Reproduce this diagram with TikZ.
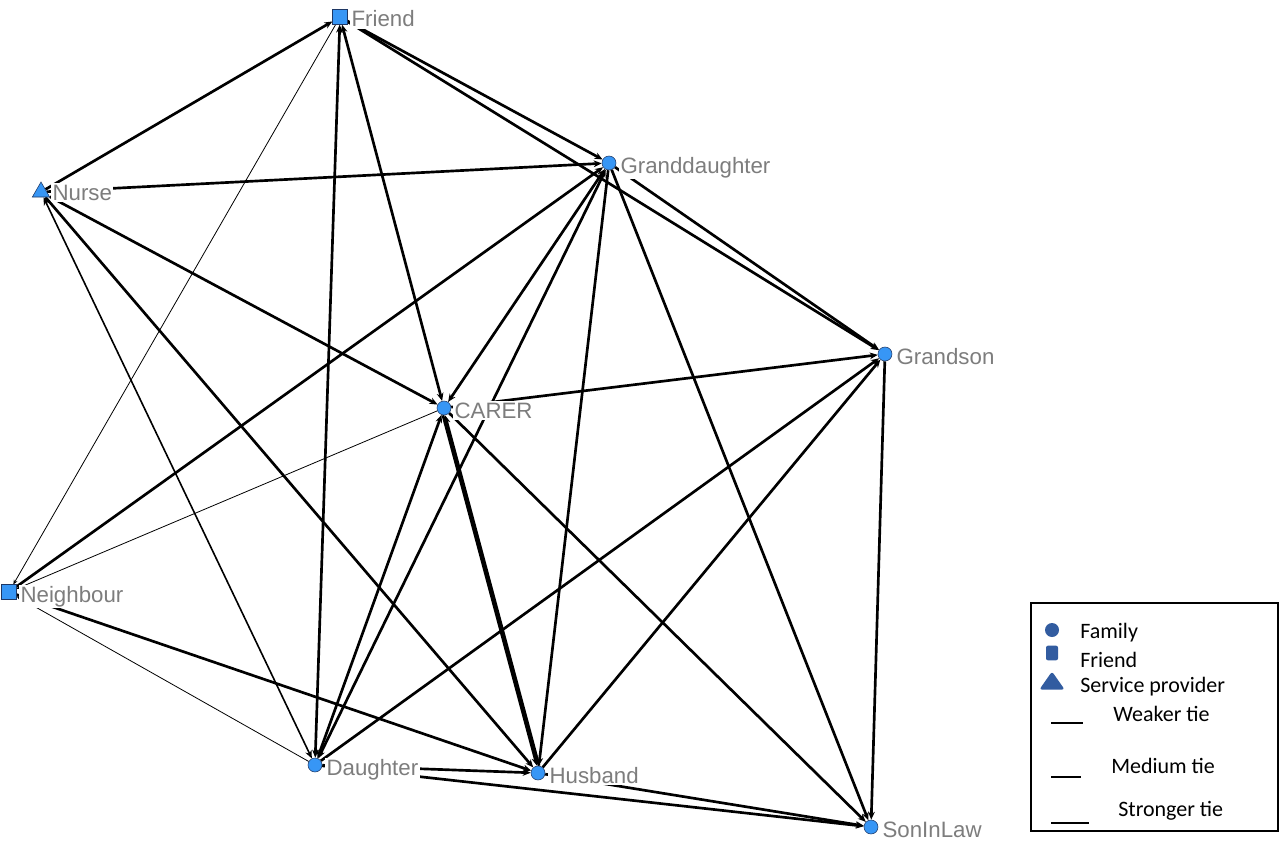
\documentclass[tikz,border=0pt]{standalone}
\usepackage{fontspec}
\setmainfont{Liberation Sans}
\newfontfamily\legfont{Carlito}
\usetikzlibrary{arrows.meta,shapes.geometric,backgrounds}
\definecolor{nodeblue}{RGB}{55,150,245}
\definecolor{nodeedge}{RGB}{30,55,100}
\definecolor{labgray}{RGB}{125,125,125}
\definecolor{legblue}{RGB}{50,92,160}
\begin{document}
\begin{tikzpicture}[x=0.75pt,y=-0.75pt,
  fam/.style={circle,fill=nodeblue,draw=nodeedge,line width=0.4pt,minimum size=10.5pt,inner sep=0pt},
  frd/.style={rectangle,fill=nodeblue,draw=nodeedge,line width=0.4pt,minimum size=11pt,inner sep=0pt},
  srv/.style={regular polygon,regular polygon sides=3,fill=nodeblue,draw=nodeedge,line width=0.4pt,minimum size=15pt,inner sep=0pt},
  lab/.style={font=\fontsize{16.7pt}{18pt}\selectfont,text=labgray,fill=white,inner xsep=1pt,inner ysep=1pt,anchor=base west},
  leg/.style={font=\legfont\fontsize{16.5pt}{18pt}\selectfont,text=black,inner sep=0pt,anchor=west},
  Tw/.style={line width=2pt,draw=black},
  Mw/.style={line width=1.2pt,draw=black},
  tw/.style={line width=0.6pt,draw=black},
  arr/.style={-{Stealth[length=6pt,width=5pt]}},
  arrb/.style={{Stealth[length=6pt,width=5pt]}-{Stealth[length=6pt,width=5pt]}},
  arrs/.style={-{Stealth[length=3.5pt,width=3pt]}},
]
\useasboundingbox (0,0) rectangle (1280,845);

% nodes
\node[frd] (fr) at (340,17) {};
\node[srv] (nu) at (41,192) {};
\node[fam] (gd) at (609,163) {};
\node[fam] (gs) at (885,354) {};
\node[fam] (ca) at (444,408) {};
\node[frd] (ne) at (9,592) {};
\node[fam] (da) at (315,765) {};
\node[fam] (hu) at (538,773) {};
\node[fam] (so) at (871,827) {};

% labels
\node[lab] (frlab) at (350,27) {Friend};
\node[lab] (nulab) at (51,200) {Nurse};
\node[lab] (gdlab) at (619,173) {Granddaughter};
\node[lab] (gslab) at (895,364) {Grandson};
\node[lab] (calab) at (453,418) {CARER};
\node[lab] (nelab) at (19,602) {Neighbour};
\node[lab] (dalab) at (325,775) {Daughter};
\node[lab] (hulab) at (548,783) {Husband};
\node[lab] (solab) at (881,837) {SonInLaw};

% connectors
\begin{pgfonlayer}{background}
\fill[white] (0,0) rectangle (1280,845);
\draw[Tw,arr] (nu) -- (fr);
\draw[tw,arrs] (fr) -- (ne);
\draw[Tw,arrb] (fr) -- (da);
\draw[Tw,arrb] (fr) -- (ca);
\draw[Tw,arr] (fr) -- (gd);
\draw[Tw,arr] (fr) -- (gs);
\draw[Tw,arr] (nu) -- (gd);
\draw[Tw,arr] (nu) -- (ca);
\draw[Tw,arr] (nu) -- (hu);
\draw[Mw,arrb] (nu) -- (da);
\draw[Tw,arr] (ne) -- (gd);
\draw[tw,arrs] (ca) -- (ne);
\draw[Tw,arr] (ne) -- (hu);
\draw[tw,arrs] (da) -- (ne);
\draw[Tw,arrb] (ca) -- (gd);
\draw[Tw,arr] (ca) -- (gs);
\draw[Tw,arrb] (ca) -- (da);
\draw[Tw,arr] ([xshift=-0.8pt]ca.south) -- ([xshift=-0.8pt]hu.north);
\draw[Tw,arr] ([xshift=0.8pt]hu.north) -- ([xshift=0.8pt]ca.south);
\draw[Tw,arr] (ca) -- (so);
\draw[Tw,arrb] (da) -- (gd);
\draw[Tw,arr] (gd) -- (gs);
\draw[Tw,arr] (gd) -- (hu);
\draw[Tw,arr] (gd) -- (so);
\draw[Tw,arr] (da) -- (gs);
\draw[Tw,arr] (da) -- (hu);
\draw[Tw,arr] (da) -- (so);
\draw[Tw,arr] (hu) -- (gs);
\draw[Tw,arr] (hu) -- (so);
\draw[Tw,arr] (gs) -- (so);
\end{pgfonlayer}

% legend
\draw[line width=1.1pt] (1031,603) rectangle (1278,831);
\node[circle,fill=legblue,minimum size=10.5pt,inner sep=0pt] (lgfam) at (1052,630) {};
\node[rectangle,rounded corners=1.5pt,fill=legblue,minimum width=9pt,minimum height=11pt,inner sep=0pt] (lgfrd) at (1052,653) {};
\node[isosceles triangle,isosceles triangle apex angle=70,shape border rotate=90,rounded corners=2pt,fill=legblue,minimum width=19pt,minimum height=13pt,inner sep=0pt] (lgsrv) at (1052,683) {};
\node[leg] (lgt1) at (1080,633) {Family};
\node[leg] (lgt2) at (1080,660) {Friend};
\node[leg] (lgt3) at (1080,687) {Service provider};
\node[leg] (lgt4) at (1113,714) {Weaker tie};
\node[leg] (lgt5) at (1111,766) {Medium tie};
\node[leg] (lgt6) at (1118,811) {Stronger tie};
\coordinate (w1) at (1051,723); \coordinate (w2) at (1083,723);
\coordinate (m1) at (1051,777); \coordinate (m2) at (1081,777);
\coordinate (s1) at (1051,823); \coordinate (s2) at (1089,823);
\draw[line width=0.9pt] (w1) -- (w2);
\draw[line width=1.3pt] (m1) -- (m2);
\draw[line width=1.8pt] (s1) -- (s2);
\end{tikzpicture}
\end{document}
